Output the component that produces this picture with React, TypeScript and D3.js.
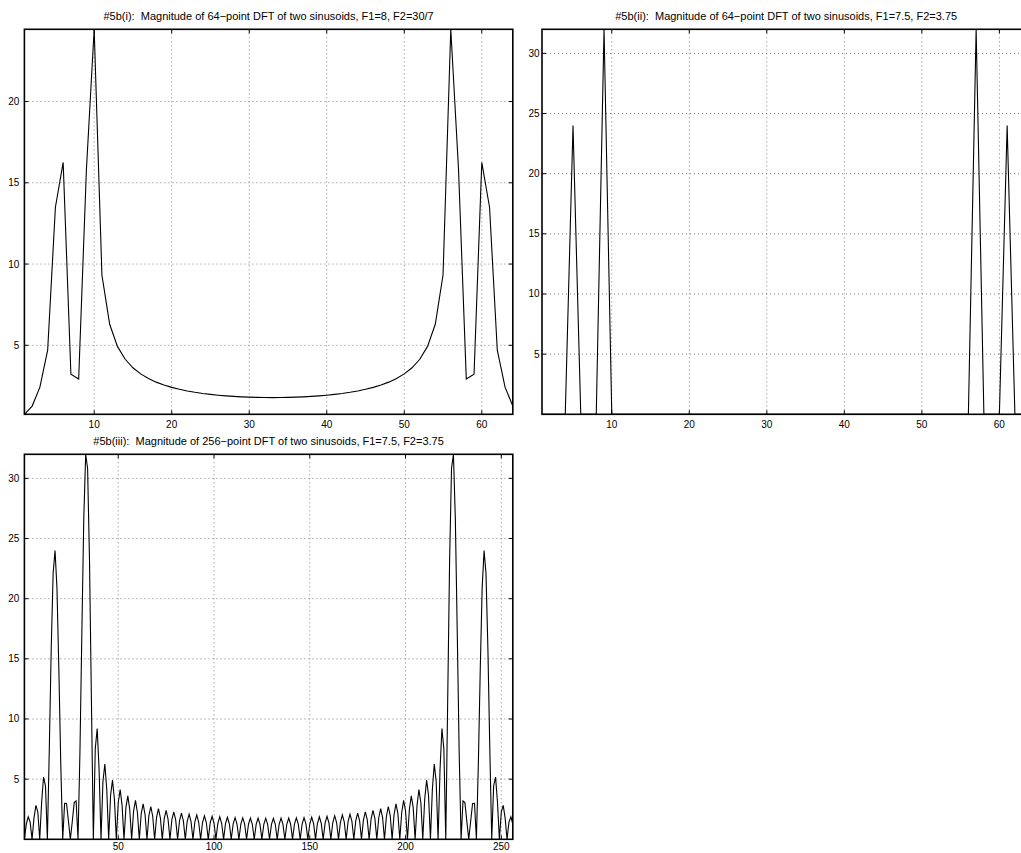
import React from 'react';
import * as d3 from 'd3';

// |X[k]|, 64-point DFT, F1=8, F2=30/7 (index 1..64)
const dftA = [
  0.756, 1.262, 2.430, 4.698, 13.499, 16.254, 3.222, 2.926, 15.816, 24.444, 9.324, 6.294, 4.934, 4.142, 3.617, 3.241,
  2.957, 2.735, 2.558, 2.413, 2.294, 2.194, 2.110, 2.040, 1.981, 1.931, 1.890, 1.857, 1.831, 1.811, 1.797, 1.788,
  1.785, 1.788, 1.797, 1.811, 1.831, 1.857, 1.890, 1.931, 1.981, 2.040, 2.110, 2.194, 2.294, 2.413, 2.558, 2.735,
  2.957, 3.241, 3.617, 4.142, 4.934, 6.294, 9.324, 24.444, 15.816, 2.926, 3.222, 16.254, 13.499, 4.698, 2.430, 1.262,
];

// |X[k]|, 64-point DFT, F1=7.5, F2=3.75
const dftB = [
  0, 0, 0, 0, 24, 0, 0, 0, 32, 0, 0, 0, 0, 0, 0, 0,
  0, 0, 0, 0, 0, 0, 0, 0, 0, 0, 0, 0, 0, 0, 0, 0,
  0, 0, 0, 0, 0, 0, 0, 0, 0, 0, 0, 0, 0, 0, 0, 0,
  0, 0, 0, 0, 0, 0, 0, 0, 32, 0, 0, 0, 24, 0, 0, 0,
];

// |X[k]|, 256-point DFT, F1=7.5, F2=3.75
const dftC = [
  0, 1.259, 1.870, 1.427, 0, 1.759, 2.816, 2.277, 0, 3.079, 5.177, 4.455, 0, 7.504, 15.838, 22.104,
  24, 20.878, 14.060, 6.195, 0, 2.989, 2.983, 1.498, 0, 1.480, 3.049, 3.197, 0, 7.247, 17.179, 26.642,
  32, 30.816, 23.113, 11.478, 0, 7.525, 9.213, 5.783, 0, 4.786, 6.263, 4.133, 0, 3.667, 4.921, 3.316,
  0, 3.041, 4.135, 2.818, 0, 2.634, 3.611, 2.479, 0, 2.346, 3.234, 2.232, 0, 2.131, 2.949, 2.043,
  0, 1.964, 2.727, 1.894, 0, 1.831, 2.548, 1.774, 0, 1.722, 2.401, 1.675, 0, 1.632, 2.280, 1.593,
  0, 1.558, 2.179, 1.525, 0, 1.495, 2.094, 1.467, 0, 1.442, 2.022, 1.418, 0, 1.397, 1.961, 1.377,
  0, 1.359, 1.910, 1.343, 0, 1.328, 1.868, 1.314, 0, 1.302, 1.833, 1.291, 0, 1.281, 1.805, 1.272,
  0, 1.264, 1.783, 1.257, 0, 1.252, 1.766, 1.247, 0, 1.243, 1.756, 1.240, 0, 1.239, 1.751, 1.238,
  0, 1.238, 1.751, 1.239, 0, 1.240, 1.756, 1.243, 0, 1.247, 1.766, 1.252, 0, 1.257, 1.783, 1.264,
  0, 1.272, 1.805, 1.281, 0, 1.291, 1.833, 1.302, 0, 1.314, 1.868, 1.328, 0, 1.343, 1.910, 1.359,
  0, 1.377, 1.961, 1.397, 0, 1.418, 2.022, 1.442, 0, 1.467, 2.094, 1.495, 0, 1.525, 2.179, 1.558,
  0, 1.593, 2.280, 1.632, 0, 1.675, 2.401, 1.722, 0, 1.774, 2.548, 1.831, 0, 1.894, 2.727, 1.964,
  0, 2.043, 2.949, 2.131, 0, 2.232, 3.234, 2.346, 0, 2.479, 3.611, 2.634, 0, 2.818, 4.135, 3.041,
  0, 3.316, 4.921, 3.667, 0, 4.133, 6.263, 4.786, 0, 5.783, 9.213, 7.525, 0, 11.478, 23.113, 30.816,
  32, 26.642, 17.179, 7.247, 0, 3.197, 3.049, 1.480, 0, 1.498, 2.983, 2.989, 0, 6.195, 14.060, 20.878,
  24, 22.104, 15.838, 7.504, 0, 4.455, 5.177, 3.079, 0, 2.277, 2.816, 1.759, 0, 1.427, 1.870, 1.259,
];

const titleA = '#5b(i):  Magnitude of 64\u2212point DFT of two sinusoids, F1=8, F2=30/7';
const titleB = '#5b(ii):  Magnitude of 64\u2212point DFT of two sinusoids, F1=7.5, F2=3.75';
const titleC = '#5b(iii):  Magnitude of 256\u2212point DFT of two sinusoids, F1=7.5, F2=3.75';

const xTicks64 = [10, 20, 30, 40, 50, 60];
const xTicks256 = [50, 100, 150, 200, 250];
const yTicksA = [5, 10, 15, 20];
const yTicksBC = [5, 10, 15, 20, 25, 30];

const FONT = '"Liberation Sans", Arial, Helvetica, sans-serif';
const W = 488.4;
const H = 385;
const TICK = 4;

type PanelProps = {
  id: string; left: number; top: number; data: number[];
  xTicks: number[]; yTicks: number[]; title: string; labelGap: number; xLabelDy: number;
};

function Panel({ id, left, top, data, xTicks, yTicks, title, labelGap, xLabelDy }: PanelProps) {
  const x = d3.scaleLinear().domain([1, data.length]).range([0, W]);
  const y = d3.scaleLinear().domain(d3.extent(data) as [number, number]).range([H, 0]);
  const line = d3.line<number>().x((_, i) => x(i + 1)).y(d => y(d));

  return (
    <g transform={`translate(${left},${top})`} fontFamily={FONT}>
      <clipPath id={id}><rect width={W} height={H} /></clipPath>
      <rect width={W} height={H} fill="#fff" />
      {/* dotted grid */}
      <g stroke="#808080" strokeWidth={1} strokeDasharray="1,3">
        {xTicks.map(t => <line key={'gx' + t} x1={x(t)} x2={x(t)} y1={0} y2={H} />)}
        {yTicks.map(t => <line key={'gy' + t} x1={0} x2={W} y1={y(t)} y2={y(t)} />)}
      </g>
      <path d={line(data) || ''} fill="none" stroke="#000" strokeWidth={1.1} clipPath={`url(#${id})`} />
      {/* inward ticks on all four sides */}
      <g stroke="#000" strokeWidth={1}>
        {xTicks.map(t => (
          <g key={'tx' + t}>
            <line x1={x(t)} x2={x(t)} y1={H} y2={H - TICK} />
            <line x1={x(t)} x2={x(t)} y1={0} y2={TICK} />
          </g>
        ))}
        {yTicks.map(t => (
          <g key={'ty' + t}>
            <line x1={0} x2={TICK} y1={y(t)} y2={y(t)} />
            <line x1={W} x2={W - TICK} y1={y(t)} y2={y(t)} />
          </g>
        ))}
      </g>
      <rect width={W} height={H} fill="none" stroke="#000" strokeWidth={1.6} />
      <g fontSize={10} fill="#000">
        {xTicks.map(t => (
          <text key={'lx' + t} x={x(t)} y={H + xLabelDy} textAnchor="middle">{t}</text>
        ))}
        {yTicks.map(t => (
          <text key={'ly' + t} x={-labelGap} y={y(t)} dy="0.35em" textAnchor="end">{t}</text>
        ))}
      </g>
      <text x={W / 2} y={-9} textAnchor="middle" fontSize={11} style={{ whiteSpace: 'pre' }}>{title}</text>
    </g>
  );
}

export default function App() {
  return (
    <svg width={1021} height={853} style={{ position: 'absolute', left: 0, top: 0, background: '#fff', overflow: 'hidden' }}>
      <rect width={1021} height={853} fill="#fff" />
      <Panel id="c1" left={24.4} top={29.3} data={dftA} xTicks={xTicks64} yTicks={yTicksA} title={titleA} labelGap={5} xLabelDy={13.4} />
      <Panel id="c2" left={542} top={29.3} data={dftB} xTicks={xTicks64} yTicks={yTicksBC} title={titleB} labelGap={2.5} xLabelDy={13.4} />
      <Panel id="c3" left={24.4} top={454.3} data={dftC} xTicks={xTicks256} yTicks={yTicksBC} title={titleC} labelGap={5} xLabelDy={11} />
    </svg>
  );
}
